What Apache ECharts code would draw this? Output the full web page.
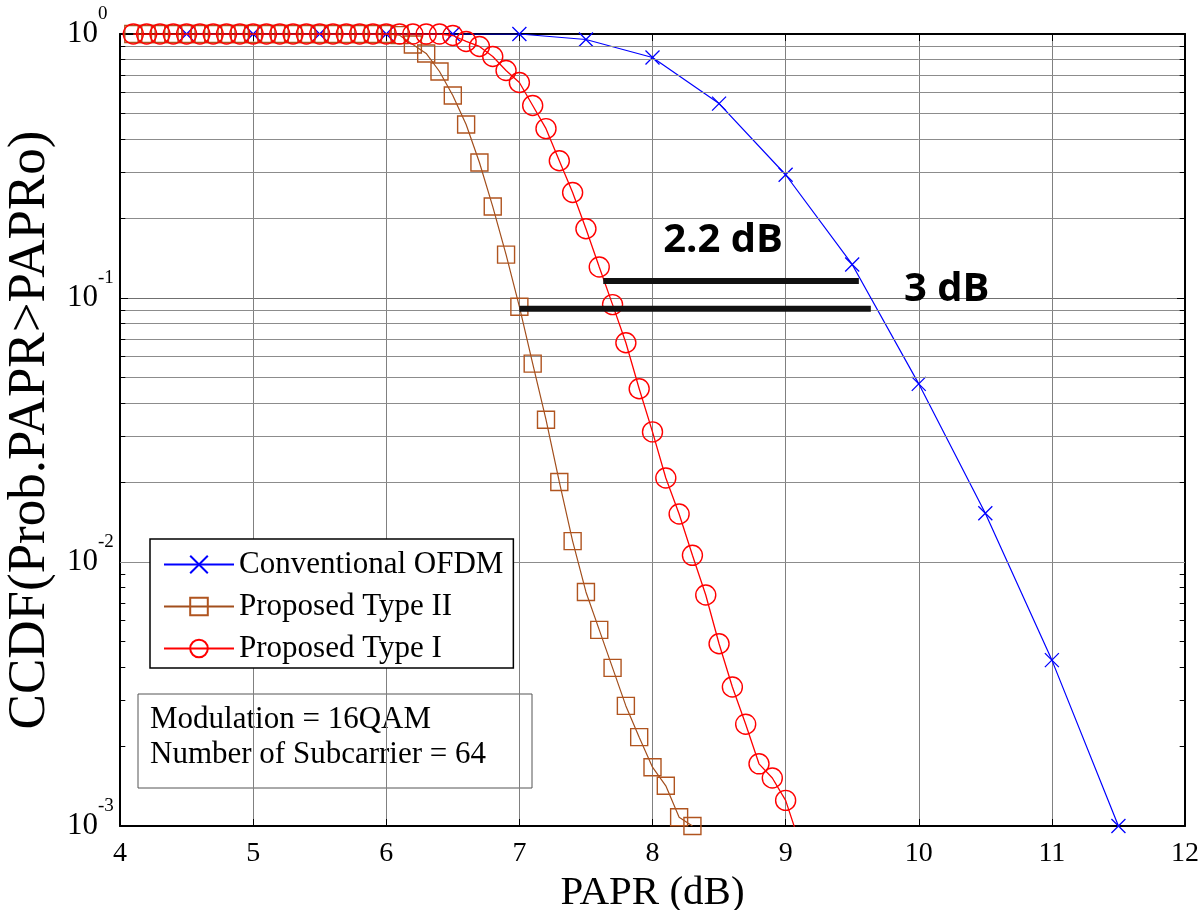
<!DOCTYPE html>
<html lang="en">
<head>
<meta charset="UTF-8">
<title>CCDF of PAPR</title>
<script src="https://cdn.jsdelivr.net/npm/echarts@6/dist/echarts.min.js"></script>
<style>
  html, body { margin: 0; padding: 0; background: #fff; }
  #chart { width: 1204px; height: 910px; }
</style>
</head>
<body>
<div id="chart"></div>
<script>
// values: PAPR (dB) and CCDF
const convPapr = [4.5, 5, 5.5, 6, 6.5, 7, 7.5, 8, 8.5, 9, 9.5, 10, 10.5, 11, 11.5];
const convCcdf = [1, 1, 1, 1, 1, 1, 0.953, 0.815, 0.545, 0.293, 0.134, 0.0473, 0.0153, 0.00425, 0.001];

const type2Papr = [4.1, 4.2, 4.3, 4.4, 4.5, 4.6, 4.7, 4.8, 4.9, 5.0,
  5.1, 5.2, 5.3, 5.4, 5.5, 5.6, 5.7, 5.8, 5.9, 6.0,
  6.1, 6.2, 6.3, 6.4, 6.5, 6.6, 6.7, 6.8, 6.9, 7.0,
  7.1, 7.2, 7.3, 7.4, 7.5, 7.6, 7.7, 7.8, 7.9, 8.0,
  8.1, 8.2, 8.3];
const type2Ccdf = [1, 1, 1, 1, 1, 1, 1, 1, 1, 1,
  1, 1, 1, 1, 1, 1, 1, 1, 1, 1,
  0.99, 0.912, 0.844, 0.721, 0.585, 0.454, 0.326, 0.222, 0.146, 0.0927,
  0.0564, 0.0346, 0.0201, 0.0120, 0.0077, 0.00553, 0.00397, 0.00285, 0.00217, 0.00167,
  0.00142, 0.00108, 0.001];

const type1Papr = [4.1, 4.2, 4.3, 4.4, 4.5, 4.6, 4.7, 4.8, 4.9, 5.0,
  5.1, 5.2, 5.3, 5.4, 5.5, 5.6, 5.7, 5.8, 5.9, 6.0,
  6.1, 6.2, 6.3, 6.4, 6.5, 6.6, 6.7, 6.8, 6.9, 7.0,
  7.1, 7.2, 7.3, 7.4, 7.5, 7.6, 7.7, 7.8, 7.9, 8.0,
  8.1, 8.2, 8.3, 8.4, 8.5, 8.6, 8.7, 8.8, 8.9, 9.0,
  9.1];
const type1Ccdf = [1, 1, 1, 1, 1, 1, 1, 1, 1, 1,
  1, 1, 1, 1, 1, 1, 1, 1, 1, 1,
  1, 1, 1, 1, 0.987, 0.937, 0.897, 0.822, 0.727, 0.655,
  0.536, 0.438, 0.331, 0.251, 0.183, 0.131, 0.0944, 0.0677, 0.0453, 0.0311,
  0.0208, 0.0152, 0.0106, 0.0075, 0.0049, 0.00336, 0.00243, 0.00172, 0.00152, 0.00125,
  0.00088];

const seriesNames = ['Conventional OFDM', 'Proposed Type II', 'Proposed Type I'];

// gap annotations (data units)
const gap1Papr = [7.63, 9.55];
const gap1Ccdf = [0.116, 0.116];
const gap2Papr = [7.0, 9.64];
const gap2Ccdf = [0.091, 0.091];
const gapLabels = ['2.2 dB', '3 dB'];
const gapLabelPapr = [8.53, 10.21];
const gapLabelCcdf = [0.165, 0.1075];

const xTicks = [4, 5, 6, 7, 8, 9, 10, 11, 12];
const infoLines = ['Modulation = 16QAM', 'Number of Subcarrier = 64'];

const serif = '"Liberation Serif", "Times New Roman", serif';

// minor log grid at 2..9 x 10^k
const minorTicks = [];
[-3, -2, -1].forEach(function (e) {
  for (let m = 2; m <= 9; m++) minorTicks.push(+(m * Math.pow(10, e)).toPrecision(3));
});

const zip = (xs, ys) => xs.map((x, i) => [x, ys[i]]);

const chart = echarts.init(document.getElementById('chart'));

const option = {
  animation: false,
  backgroundColor: '#fff',
  grid: { left: 120, top: 34, right: 19, bottom: 84, containLabel: false, outerBoundsMode: 'none' },
  xAxis: [{
    type: 'value',
    min: xTicks[0], max: xTicks[xTicks.length - 1], interval: 1,
    name: 'PAPR (dB)',
    nameLocation: 'middle',
    nameGap: 32,
    nameTextStyle: { fontFamily: serif, fontSize: 41, color: '#000' },
    axisLine: { onZero: false, lineStyle: { color: '#000', width: 2 } },
    axisTick: { inside: true, length: 7, lineStyle: { color: '#000', width: 1 } },
    axisLabel: { fontFamily: serif, fontSize: 28, color: '#000', margin: 14 },
    splitLine: { show: true, lineStyle: { color: '#808080', width: 1 } }
  }, {
    type: 'value',
    position: 'top',
    min: xTicks[0], max: xTicks[xTicks.length - 1], interval: 1,
    axisLine: { onZero: false, lineStyle: { color: '#000', width: 2 } },
    axisTick: { inside: true, length: 7, lineStyle: { color: '#000', width: 1 } },
    axisLabel: { show: false },
    splitLine: { show: false }
  }],
  yAxis: [{
    type: 'log',
    logBase: 10,
    min: 0.001, max: 1,
    name: 'CCDF(Prob.PAPR>PAPRo)',
    nameLocation: 'middle',
    nameGap: 62,
    nameTextStyle: { fontFamily: serif, fontSize: 53, color: '#000' },
    axisLine: { onZero: false, lineStyle: { color: '#000', width: 2 } },
    axisTick: { inside: true, length: 8, lineStyle: { color: '#000', width: 1 } },
    axisLabel: {
      align: 'left',
      margin: 53,
      formatter: function (v) {
        return '{b|10}{s|' + Math.round(Math.log10(v)) + '}';
      },
      rich: {
        b: { fontFamily: serif, fontSize: 31, color: '#000', lineHeight: 58 },
        s: { fontFamily: serif, fontSize: 19, color: '#000', verticalAlign: 'top', lineHeight: 20 }
      }
    },
    splitLine: { show: true, lineStyle: { color: '#707070', width: 1 } }
  }, {
    type: 'log',
    logBase: 10,
    min: 0.001, max: 1,
    position: 'right',
    axisLine: { onZero: false, lineStyle: { color: '#000', width: 2 } },
    axisTick: { inside: true, length: 8, lineStyle: { color: '#000', width: 1 } },
    axisLabel: { show: false },
    splitLine: { show: false }
  }],
  legend: {
    data: seriesNames,
    orient: 'vertical',
    left: 150,
    top: 539,
    z: 40,
    padding: [10, 10, 4, 13],
    itemGap: 11,
    itemWidth: 70,
    itemHeight: 22,
    backgroundColor: '#fff',
    borderColor: '#000',
    borderWidth: 1.5,
    borderRadius: 0,
    textStyle: { fontFamily: serif, fontSize: 31, color: '#000' }
  },
  graphic: [{
    type: 'group',
    id: 'info',
    z: 50,
    children: [{
      type: 'rect',
      shape: { x: 138, y: 694, width: 394, height: 94 },
      style: { fill: '#fff', stroke: '#555', lineWidth: 1 }
    }, {
      type: 'text',
      x: 150, y: 720,
      style: { text: infoLines[0], font: '31px ' + serif, fill: '#000', verticalAlign: 'middle' }
    }, {
      type: 'text',
      x: 150, y: 755,
      style: { text: infoLines[1], font: '31px ' + serif, fill: '#000', verticalAlign: 'middle' }
    }]
  }],
  series: [{
    // minor grid lines and minor ticks on the log axis
    type: 'line',
    data: [[4, 1]],
    symbol: 'none',
    lineStyle: { opacity: 0 },
    silent: true,
    z: 1,
    markLine: {
      silent: true,
      symbol: ['none', 'none'],
      label: { show: false },
      lineStyle: { color: '#8c8c8c', width: 1, type: 'solid' },
      data: minorTicks.map(v => ({ yAxis: v }))
        .concat(minorTicks.map(v => [
          { coord: [4, v], lineStyle: { color: '#000' } },
          { coord: [4.04, v] }
        ]))
        .concat(minorTicks.map(v => [
          { coord: [11.96, v], lineStyle: { color: '#000' } },
          { coord: [12, v] }
        ]))
    }
  }, {
    name: seriesNames[0],
    type: 'line',
    data: zip(convPapr, convCcdf),
    symbol: 'path://M0,0L10,10M10,0L0,10',
    symbolSize: 14,
    itemStyle: { color: '#0000ff', borderColor: '#0000ff', borderWidth: 1.3 },
    lineStyle: { color: '#0000ff', width: 1.2 },
    z: 4
  }, {
    name: seriesNames[1],
    type: 'line',
    data: zip(type2Papr, type2Ccdf),
    symbol: 'rect',
    symbolSize: 17,
    itemStyle: { color: 'rgba(0,0,0,0)', borderColor: '#b0541f', borderWidth: 1.4 },
    lineStyle: { color: '#a24e1c', width: 1.2 },
    z: 5
  }, {
    name: seriesNames[2],
    type: 'line',
    data: zip(type1Papr, type1Ccdf),
    symbol: 'circle',
    symbolSize: 20,
    itemStyle: { color: 'rgba(0,0,0,0)', borderColor: '#ff0000', borderWidth: 1.4 },
    lineStyle: { color: '#ff0000', width: 1.3 },
    z: 6
  }, {
    type: 'line',
    data: zip(gap1Papr, gap1Ccdf),
    symbol: 'none',
    lineStyle: { color: '#111', width: 6 },
    silent: true,
    z: 7
  }, {
    type: 'line',
    data: zip(gap2Papr, gap2Ccdf),
    symbol: 'none',
    lineStyle: { color: '#111', width: 6 },
    silent: true,
    z: 7
  }]
};

chart.setOption(option);

// gap labels placed through the chart's own coordinate conversion
const labelEls = gapLabels.map(function (txt, i) {
  const p = chart.convertToPixel({ gridIndex: 0 }, [gapLabelPapr[i], gapLabelCcdf[i]]);
  return {
    type: 'text',
    id: 'gap' + i,
    x: p[0], y: p[1],
    z: 60,
    style: {
      text: txt,
      font: 'bold 40px "Open Sans", "Liberation Sans", sans-serif',
      fill: '#000',
      align: 'center',
      verticalAlign: 'middle'
    }
  };
});
chart.setOption({ graphic: labelEls });
</script>
</body>
</html>
